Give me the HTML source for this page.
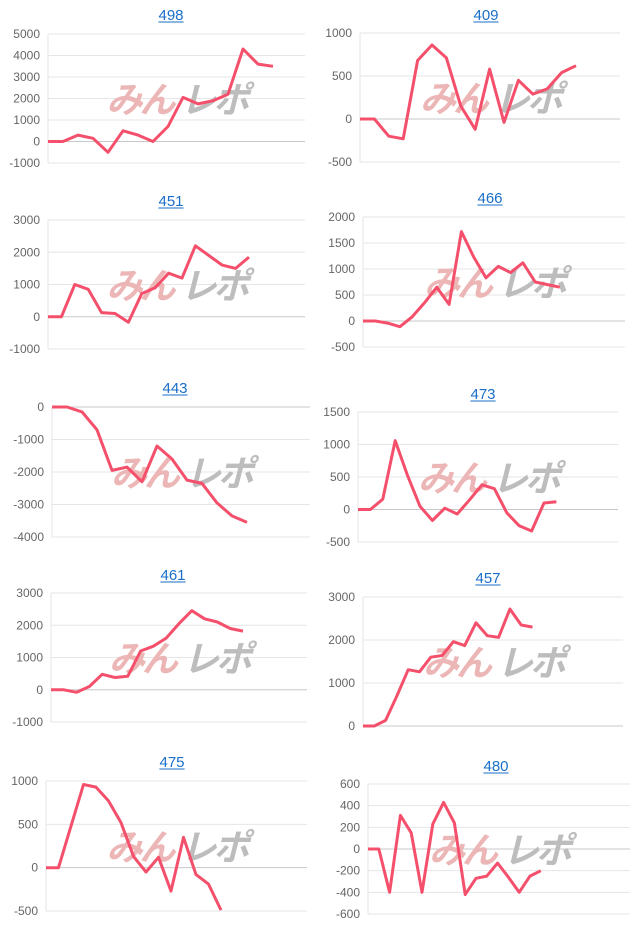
<!DOCTYPE html>
<html><head><meta charset="utf-8"><style>
body{margin:0;background:#fff;width:640px;height:931px;overflow:hidden;font-family:"Liberation Sans","Noto Sans CJK JP",sans-serif}
svg{display:block}
</style></head><body>
<svg id="root" width="640" height="931"></svg>
<script>
const titles=["498","409","451","466","443","473","461","457","475","480"];
const s498=[0,0,300,150,-500,500,300,0,700,2050,1750,1900,2200,4300,3600,3500];
const s409=[0,0,-200,-230,680,860,710,150,-120,580,-40,450,290,350,540,620];
const s451=[0,0,1000,850,130,100,-170,720,900,1350,1200,2200,1900,1600,1500,1850];
const s466=[0,0,-40,-110,80,350,650,320,1720,1230,830,1050,930,1120,750,700,650];
const s443=[0,0,-150,-700,-1950,-1850,-2300,-1200,-1600,-2250,-2350,-2950,-3350,-3550];
const s473=[0,0,160,1060,520,50,-170,20,-70,150,380,320,-50,-250,-330,100,120];
const s461=[0,0,-80,100,480,380,420,1200,1350,1600,2050,2450,2200,2100,1900,1820];
const s457=[0,0,130,700,1310,1260,1600,1640,1960,1870,2400,2100,2060,2720,2350,2300];
const s475=[0,0,480,960,930,770,520,130,-50,120,-270,350,-80,-190,-490];
const s480=[0,0,-400,310,150,-400,230,430,240,-420,-270,-250,-130,-260,-400,-250,-200];
const t498=[5000,4000,3000,2000,1000,0,-1000];
const t409=[1000,500,0,-500];
const t451=[3000,2000,1000,0,-1000];
const t466=[2000,1500,1000,500,0,-500];
const t443=[0,-1000,-2000,-3000,-4000];
const t473=[1500,1000,500,0,-500];
const t461=[3000,2000,1000,0,-1000];
const t457=[3000,2000,1000,0];
const t475=[1000,500,0,-500];
const t480=[600,400,200,0,-200,-400,-600];
const seriesList=[s498,s409,s451,s466,s443,s473,s461,s457,s475,s480];
const tickList=[t498,t409,t451,t466,t443,t473,t461,t457,t475,t480];
// layout: [x0,x1,yTop,yBottom,step,titleX,titleY]
const layout=[
[48,305,34,163,15,171,15],[360,620,33,162,14.4,486,15],
[48,305,220,349,13.4,171,201],[363,625,217,347,12.3,490,198],
[52,310,407,537,15,175,388],[358,618,412,542,12.4,483,394],
[51,307,593,722,12.8,173,575],[363,623,597,726,11.3,488,578],
[46,307,781,911,12.5,172,762],[368,630,784,914,10.8,496,766]];
const NS="http://www.w3.org/2000/svg";
const root=document.getElementById('root');
function mk(tag,attrs,parent){const e=document.createElementNS(NS,tag);for(const k in attrs)e.setAttribute(k,attrs[k]);parent.appendChild(e);return e;}
seriesList.forEach((data,i)=>{
  const [x0,x1,yT,yB,step,tx,ty]=layout[i];
  const ticks=tickList[i];
  const vmax=Math.max(...ticks),vmin=Math.min(...ticks);
  const yS=v=>yT+(vmax-v)/(vmax-vmin)*(yB-yT);
  const xS=k=>x0+k*step;
  const g=mk('g',{},root);
  
  
  const t=mk('text',{x:tx,y:ty+5,'text-anchor':'middle','font-size':15,fill:'#1a6fc9'},g);
  t.textContent=titles[i];
  
  
  const tw=titles[i].length*8.4;
  mk('line',{x1:tx-tw/2,x2:tx+tw/2,y1:ty+7,y2:ty+7,stroke:'#1a6fc9','stroke-width':1},g);
  ticks.forEach(v=>{
    const y=yS(v);
    const gl=mk('line',{x1:x0,x2:x1,y1:y,y2:y,stroke:v===0?'#c8c8c8':'#e6e6e6','stroke-width':1},g);
    
    
    const lb=mk('text',{x:x0-8,y:y+4,'text-anchor':'end','font-size':12,fill:'#666'},g);
    lb.textContent=v;
    
    
  });
  mk('line',{x1:x0,x2:x0,y1:yT,y2:yB,stroke:'#e6e6e6','stroke-width':1},g);
  const cx=(x0+x1)/2+10, cy=(yT+yB)/2+2;
  const wm=mk('text',{x:cx-80,y:cy+12,'font-size':36,'font-weight':'bold','font-style':'italic',fill:'#ecb6b6','letter-spacing':-3},g);
  wm.textContent='みん';
  
  
  const wm2=mk('text',{x:cx-6,y:cy+12,'font-size':36,'font-weight':'bold','font-style':'italic',fill:'#bdbdbd','letter-spacing':-3},g);
  wm2.textContent='レポ';
  
  
  const pts=data.map((v,k)=>xS(k).toFixed(1)+','+yS(v).toFixed(1)).join(' ');
  const pl=mk('polyline',{points:pts,fill:'none',stroke:'#f4506c','stroke-width':3,'stroke-linejoin':'round'},g);
  
  
});
</script>
</body></html>
